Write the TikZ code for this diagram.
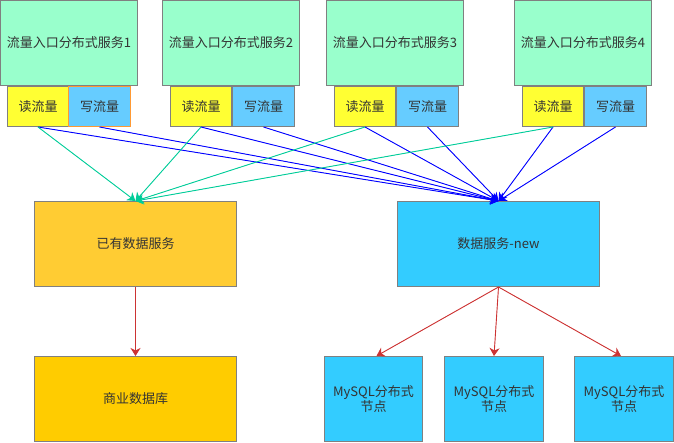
\documentclass[tikz,border=0pt]{standalone}
\usepackage{fontspec}
\setmainfont{Noto Sans CJK SC}
\usetikzlibrary{arrows.meta}
\definecolor{bord}{HTML}{808080}
\definecolor{mint}{HTML}{99FFCC}
\definecolor{rd}{HTML}{FFFF33}
\definecolor{wr}{HTML}{66CCFF}
\definecolor{oldc}{HTML}{FFCC33}
\definecolor{newc}{HTML}{33CCFF}
\definecolor{bizc}{HTML}{FFCC00}
\definecolor{teal}{HTML}{00CC99}
\definecolor{blu}{HTML}{0000FF}
\definecolor{redc}{HTML}{CC3333}
\definecolor{txt}{HTML}{333333}
\definecolor{orng}{HTML}{FF9933}
\tikzset{
  box/.style={draw=bord, line width=1pt, anchor=north west, inner sep=0pt, text=txt, font=\fontsize{13pt}{15pt}\selectfont, align=center},
  svc/.style={box, fill=mint, minimum width=137pt, minimum height=85pt},
  rdbox/.style={box, fill=rd, minimum width=61pt, minimum height=40pt},
  wrbox/.style={box, fill=wr, minimum width=62pt, minimum height=40pt},
  bigbox/.style={box, minimum width=202pt, minimum height=85pt},
  sqlbox/.style={box, fill=newc, minimum width=98pt, minimum height=85pt},
  tip/.style={-{Stealth[length=8pt,width=10pt,inset=2.5pt]}},
  tealarr/.style={draw=teal, line width=0.9pt, tip, fill=teal},
  bluarr/.style={draw=blu, line width=0.9pt, tip, fill=blu},
  redarr/.style={draw=redc, line width=0.9pt, tip, fill=redc},
}
\begin{document}
\begin{tikzpicture}[x=1pt,y=-1pt]
\useasboundingbox (0,0) rectangle (674,442);
% services
\node[svc] (s1) at (0,0) {流量入口分布式服务1};
\node[svc] (s2) at (162,0) {流量入口分布式服务2};
\node[svc] (s3) at (326,0) {流量入口分布式服务3};
\node[svc] (s4) at (514,0) {流量入口分布式服务4};
% read / write
\node[rdbox] (r1) at (7,86) {读流量};
\node[wrbox, draw=orng] (w1) at (68,86) {写流量};
\node[rdbox] (r2) at (170,86) {读流量};
\node[wrbox] (w2) at (232,86) {写流量};
\node[rdbox] (r3) at (334,86) {读流量};
\node[wrbox] (w3) at (396,86) {写流量};
\node[rdbox] (r4) at (522,86) {读流量};
\node[wrbox] (w4) at (584,86) {写流量};
% middle
\node[bigbox, fill=oldc] (old) at (34,201) {已有数据服务};
\node[bigbox, fill=newc] (new) at (397,201) {数据服务-new};
% bottom
\node[bigbox, fill=bizc, minimum height=85pt] (biz) at (34,356) {商业数据库};
\node[sqlbox] (m1) at (324,356) {MySQL分布式\\节点};
\node[sqlbox, minimum width=99pt] (m2) at (444,356) {MySQL分布式\\节点};
\node[sqlbox, minimum width=99pt] (m3) at (574,356) {MySQL分布式\\节点};
% blue arrows
\foreach \n in {r1,w1,r2,w2,r3,w3,r4,w4}
  \draw[bluarr] (\n.south) -- (new.north);
% teal arrows
\foreach \n in {r1,r2,r3,r4}
  \draw[tealarr] (\n.south) -- (old.north);
% red arrows
\draw[redarr] (old.south) -- (biz.north);
\draw[redarr] (new.south) -- ([xshift=3pt]m1.north);
\draw[redarr] (new.south) -- (m2.north);
\draw[redarr] (new.south) -- ([xshift=-3pt]m3.north);
\end{tikzpicture}
\end{document}
